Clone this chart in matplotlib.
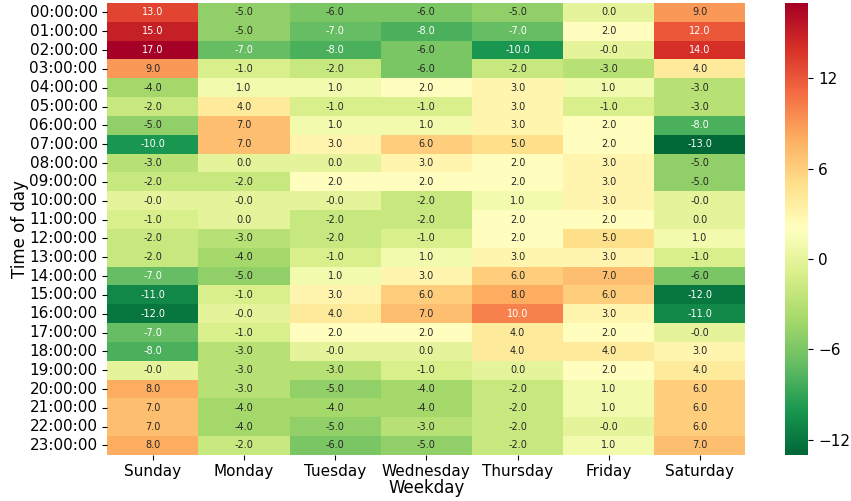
import numpy as np
import matplotlib
matplotlib.use("Agg")
import matplotlib.pyplot as plt
import seaborn as sns

days = ["Sunday", "Monday", "Tuesday", "Wednesday", "Thursday", "Friday", "Saturday"]
hours = ["%02d:00:00" % h for h in range(24)]

# rows = hour of day, columns = weekday
values = [
    [13, -5, -6, -6, -5, 0, 9],
    [15, -5, -7, -8, -7, 2, 12],
    [17, -7, -8, -6, -10, -0.0, 14],
    [9, -1, -2, -6, -2, -3, 4],
    [-4, 1, 1, 2, 3, 1, -3],
    [-2, 4, -1, -1, 3, -1, -3],
    [-5, 7, 1, 1, 3, 2, -8],
    [-10, 7, 3, 6, 5, 2, -13],
    [-3, 0, 0, 3, 2, 3, -5],
    [-2, -2, 2, 2, 2, 3, -5],
    [-0.0, -0.0, -0.0, -2, 1, 3, -0.0],
    [-1, 0, -2, -2, 2, 2, 0],
    [-2, -3, -2, -1, 2, 5, 1],
    [-2, -4, -1, 1, 3, 3, -1],
    [-7, -5, 1, 3, 6, 7, -6],
    [-11, -1, 3, 6, 8, 6, -12],
    [-12, -0.0, 4, 7, 10, 3, -11],
    [-7, -1, 2, 2, 4, 2, -0.0],
    [-8, -3, -0.0, 0, 4, 4, 3],
    [-0.0, -3, -3, -1, 0, 2, 4],
    [8, -3, -5, -4, -2, 1, 6],
    [7, -4, -4, -4, -2, 1, 6],
    [7, -4, -5, -3, -2, -0.0, 6],
    [8, -2, -6, -5, -2, 1, 7],
]
data = np.array(values, dtype=float)

fig = plt.figure(figsize=(8.51, 5.01), dpi=100)
ax = fig.add_axes([0.126, 0.092, 0.750, 0.902])
cax = fig.add_axes([0.923, 0.092, 0.027, 0.902])

sns.heatmap(data, ax=ax, cbar_ax=cax, cmap="RdYlGn_r", annot=True, fmt=".1f",
            annot_kws={"fontsize": 7}, xticklabels=days, yticklabels=hours,
            cbar_kws={"ticks": [-12, -6, 0, 6, 12]})

ax.set_xlabel("Weekday", fontsize=12, labelpad=0)
ax.set_ylabel("Time of day", fontsize=12, labelpad=0)
ax.tick_params(axis="x", labelsize=11, rotation=0, pad=3)
ax.tick_params(axis="y", labelsize=11, rotation=0)
cax.tick_params(labelsize=11)

fig.savefig("out.png", dpi=100)
